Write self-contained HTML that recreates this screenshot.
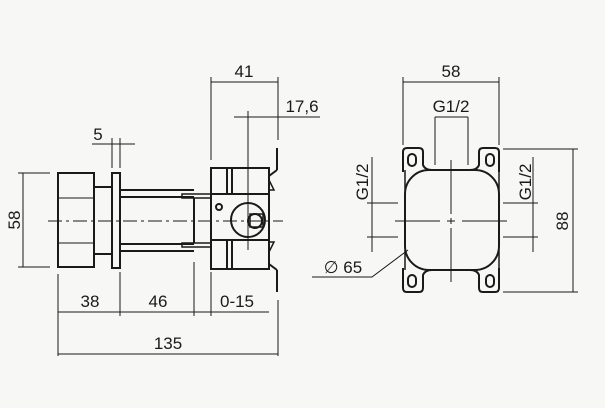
<!DOCTYPE html>
<html><head><style>body{margin:0;background:#f7f7f6}svg{display:block}</style></head><body>
<svg width="605" height="408" viewBox="0 0 605 408" xmlns="http://www.w3.org/2000/svg" font-family="Liberation Sans, sans-serif" font-size="17" fill="none" stroke="#1a1a1a">
<rect width="605" height="408" fill="#f7f7f6" stroke="none"/>
<g stroke-width="1">
<line x1="211" y1="82" x2="278" y2="82"/><line x1="211" y1="77" x2="211" y2="160"/><line x1="278" y1="77" x2="278" y2="140"/>
<line x1="234" y1="117" x2="320" y2="117"/><line x1="248" y1="111" x2="248" y2="250"/>
<line x1="92" y1="144" x2="135" y2="144"/><line x1="112" y1="138" x2="112" y2="168"/><line x1="120" y1="138" x2="120" y2="168"/>
<line x1="23" y1="173" x2="23" y2="267"/><line x1="18" y1="173" x2="50" y2="173"/><line x1="18" y1="267" x2="50" y2="267"/>
<line x1="58" y1="312" x2="269" y2="312"/><line x1="58" y1="274" x2="58" y2="356"/><line x1="120" y1="272" x2="120" y2="316"/><line x1="194" y1="262" x2="194" y2="316"/><line x1="211" y1="272" x2="211" y2="316"/>
<line x1="58" y1="354" x2="278" y2="354"/><line x1="278" y1="300" x2="278" y2="356"/>
<line x1="48" y1="221" x2="283" y2="221" stroke-dasharray="14,4,3,4"/>
</g>
<g stroke-width="2">
<rect x="58" y="173" width="36" height="94"/>
<line x1="58" y1="198" x2="94" y2="198" stroke-width="1"/><line x1="58" y1="243" x2="94" y2="243" stroke-width="1"/>
<line x1="94" y1="187" x2="112" y2="187"/><line x1="94" y1="254" x2="112" y2="254"/>
<rect x="112" y="173" width="8" height="95"/>
<line x1="120" y1="190" x2="194" y2="190"/><line x1="120" y1="251" x2="194" y2="251"/>
<line x1="120" y1="197" x2="194" y2="197"/><line x1="120" y1="244" x2="194" y2="244"/>
<rect x="182" y="194" width="29" height="4" stroke-width="1.5"/><rect x="182" y="243" width="29" height="4" stroke-width="1.5"/>
<line x1="194" y1="198" x2="194" y2="243"/>
<rect x="211" y="168" width="58" height="101"/>
<line x1="211" y1="194" x2="269" y2="194"/><line x1="211" y1="240" x2="269" y2="240"/>
<line x1="227" y1="168" x2="227" y2="194"/><line x1="232" y1="168" x2="232" y2="194"/>
<line x1="227" y1="240" x2="227" y2="269"/><line x1="232" y1="240" x2="232" y2="269"/>
<circle cx="248" cy="220" r="17"/><circle cx="255" cy="221" r="7"/>
<rect x="250" y="214" width="13" height="13" stroke-width="1.5"/>
<circle cx="219" cy="207" r="3"/>
<line x1="277" y1="148" x2="277" y2="170"/><line x1="277" y1="170" x2="269" y2="176"/>
<line x1="277" y1="270" x2="277" y2="292"/><line x1="277" y1="270" x2="269" y2="264"/>
<path d="M269 180 L274 190 L269 190" stroke-width="1.5"/><path d="M269 252 L274 242 L269 242" stroke-width="1.5"/>
</g>
<g fill="#1a1a1a" stroke="none" text-anchor="middle">
<text x="244" y="77">41</text><text x="302" y="112">17,6</text><text x="98" y="140">5</text>
<text transform="translate(20,220) rotate(-90)">58</text>
<text x="90" y="307">38</text><text x="158" y="307">46</text><text x="237" y="307">0-15</text><text x="168" y="349">135</text>
<text x="451" y="77">58</text><text x="451" y="112">G1/2</text>
<text transform="translate(368,182) rotate(-90)">G1/2</text>
<text transform="translate(531,182) rotate(-90)">G1/2</text>
<text transform="translate(568,221) rotate(-90)">88</text>
<text x="343" y="273">∅ 65</text>
</g>
<g stroke-width="1">
<line x1="403" y1="82" x2="499" y2="82"/><line x1="403" y1="77" x2="403" y2="145"/><line x1="499" y1="77" x2="499" y2="145"/>
<line x1="435" y1="117" x2="468" y2="117"/><line x1="435" y1="117" x2="435" y2="165"/><line x1="468" y1="117" x2="468" y2="165"/>
<line x1="372" y1="157" x2="372" y2="252"/><line x1="367" y1="203" x2="398" y2="203"/><line x1="367" y1="237" x2="398" y2="237"/>
<line x1="533" y1="157" x2="533" y2="252"/><line x1="503" y1="203" x2="538" y2="203"/><line x1="503" y1="237" x2="538" y2="237"/>
<line x1="573" y1="149" x2="573" y2="292"/><line x1="503" y1="149" x2="578" y2="149"/><line x1="503" y1="292" x2="578" y2="292"/>
<line x1="395" y1="221" x2="440" y2="221"/><line x1="447" y1="221" x2="455" y2="221"/><line x1="462" y1="221" x2="507" y2="221"/>
<line x1="451" y1="160" x2="451" y2="214"/><line x1="451" y1="218" x2="451" y2="224"/><line x1="451" y1="228" x2="451" y2="282"/>
<polyline points="312,277 372,277 408,250"/>
</g>
<g stroke-width="2">
<rect x="405" y="170" width="94" height="100" rx="24"/>
<path d="M405 170 L405 190 M499 170 L499 190 M405 250 L405 270 M499 250 L499 270" stroke-width="1.5"/>
<path d="M403 172 L403 152 Q403 148 407 148 L419 148 Q423 148 423 152 L423 165 Q425 170 432 170 L470 170 Q477 170 479 165 L479 152 Q479 148 483 148 L495 148 Q499 148 499 152 L499 172"/>
<path d="M403 268 L403 288 Q403 292 407 292 L419 292 Q423 292 423 288 L423 275 Q425 270 432 270 L470 270 Q477 270 479 275 L479 288 Q479 292 483 292 L495 292 Q499 292 499 288 L499 268"/>
<rect x="408" y="154" width="8" height="12" rx="4"/><rect x="486" y="154" width="8" height="12" rx="4"/>
<rect x="408" y="275" width="8" height="12" rx="4"/><rect x="486" y="275" width="8" height="12" rx="4"/>
</g>
</svg>
</body></html>
